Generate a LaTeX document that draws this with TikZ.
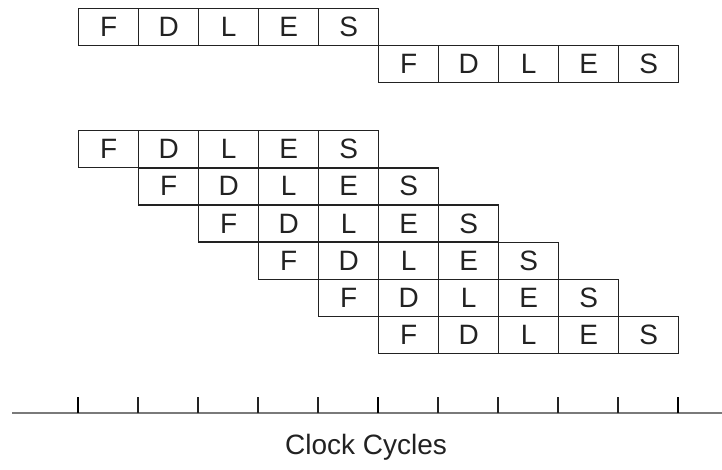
\documentclass[tikz,border=0pt]{standalone}
\usepackage{fontspec}
\setmainfont{Liberation Sans}
\definecolor{ink}{HTML}{222222}
\definecolor{axisgray}{HTML}{7A7A7A}
\begin{document}
\begin{tikzpicture}[x=1pt,y=-1pt,
  cell/.style={draw=ink,line width=1.3pt,minimum width=60pt,minimum height=37pt,inner sep=0pt,
    font=\fontsize{28}{32}\selectfont,text=ink,anchor=north west},
  majortick/.style={line width=2.8pt,draw=black},
  minortick/.style={line width=1.3pt,draw=ink},
  axisline/.style={line width=1.3pt,draw=axisgray}]
\useasboundingbox (0,0) rectangle (722,469);
\def\stages{F,D,L,E,S}
% sequential
\foreach \s [count=\i] in \stages {
  \node[cell] (a\i) at ({78+60*(\i-1)},8) {\s};
  \node[cell] (b\i) at ({378+60*(\i-1)},45) {\s};
}
% pipelined
\foreach \r in {1,...,6} {
  \foreach \s [count=\i] in \stages {
    \node[cell] (p\r\i) at ({78+60*(\r-1)+60*(\i-1)},{130+37.2*(\r-1)}) {\s};
  }
}
% axis
\coordinate (axL) at (12,413);
\coordinate (axR) at (722,413);
\draw[axisline] (axL) -- (axR);
\foreach \k in {0,...,10} {
  \coordinate (t\k) at ({78+60*\k},413);
  \coordinate (tt\k) at ({78+60*\k},397);
}
\foreach \k in {0,5,10} { \draw[majortick] (t\k) -- (tt\k); }
\foreach \k in {1,2,3,4,6,7,8,9} { \draw[minortick] (t\k) -- (tt\k); }
\node[font=\fontsize{28}{32}\selectfont,text=ink] (lbl) at (366,447) {Clock Cycles};
\end{tikzpicture}
\end{document}
